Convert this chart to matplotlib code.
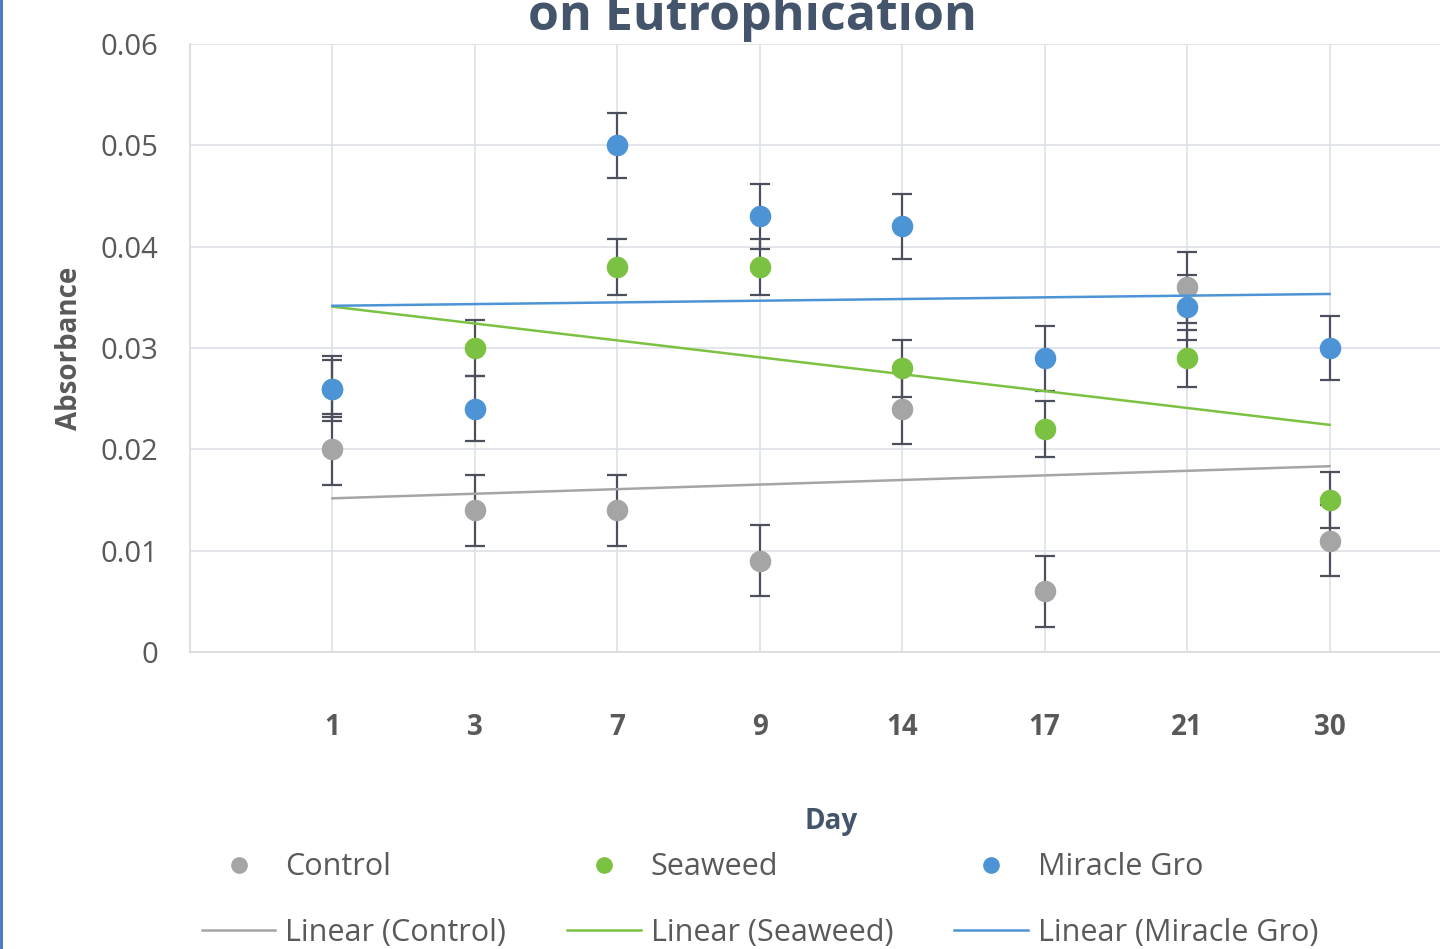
import matplotlib
matplotlib.use("Agg")
import numpy as np
import matplotlib.pyplot as plt
from matplotlib.lines import Line2D

days = ["1", "3", "7", "9", "14", "17", "21", "30"]
control = [0.020, 0.014, 0.014, 0.009, 0.024, 0.006, 0.036, 0.011]
seaweed = [0.026, 0.030, 0.038, 0.038, 0.028, 0.022, 0.029, 0.015]
miracle = [0.026, 0.024, 0.050, 0.043, 0.042, 0.029, 0.034, 0.030]
err_control = 0.0035
err_seaweed = 0.0028
err_miracle = 0.0032

names = ["Control", "Seaweed", "Miracle Gro"]
colors = ["#a5a5a5", "#7cc242", "#4d94d6"]
series = [control, seaweed, miracle]
errs = [err_control, err_seaweed, err_miracle]

plt.rcParams["font.family"] = ["Open Sans", "DejaVu Sans"]
txt = "#595959"

fig = plt.figure(figsize=(14.4, 9.49), dpi=100)
# axes runs past the right edge of the picture (the source was cropped)
ax = fig.add_axes([190 / 1440, 1 - 652 / 949, 1282 / 1440, 608 / 949])

x = np.arange(1, len(days) + 1)
for vals, err, c in zip(series, errs, colors):
    ax.errorbar(x, vals, yerr=err, fmt="none", ecolor="#4b505c",
                elinewidth=1.6, capsize=7.2, capthick=1.6, zorder=3)
    ax.plot(x, vals, "o", color=c, markersize=14.5, zorder=4)

# linear trendlines (least squares on category index)
for vals, c in zip(series, colors):
    k, b = np.polyfit(x, vals, 1)
    ax.plot([x[0], x[-1]], [k * x[0] + b, k * x[-1] + b], color=c,
            linewidth=1.8, zorder=5)

ax.set_xlim(0, 9)
ax.set_ylim(0, 0.06)
ax.set_xticks(x)
ax.set_xticklabels(days, fontsize=20, fontweight="bold", color=txt)
ax.set_yticks([0, 0.01, 0.02, 0.03, 0.04, 0.05, 0.06])
ax.set_yticklabels(["0", "0.01", "0.02", "0.03", "0.04", "0.05", "0.06"],
                   fontsize=21, color=txt)
ax.tick_params(axis="x", length=0, pad=44)
ax.tick_params(axis="y", length=0, pad=23)
ax.grid(True, color="#dde1e8", linewidth=1.2)
ax.set_axisbelow(True)
for s in ["top", "right"]:
    ax.spines[s].set_visible(False)
for s in ["left", "bottom"]:
    ax.spines[s].set_color("#d9d9d9")
    ax.spines[s].set_linewidth(1.2)

ax.set_xlabel("Day", fontsize=20, fontweight="bold", color="#44546a", labelpad=47)
ax.set_ylabel("Absorbance", fontsize=20, fontweight="bold", color=txt, labelpad=12)

fig.text(752 / 1440, 1 - 30 / 949, "on Eutrophication", ha="center", va="baseline",
         fontsize=36, fontweight="bold", color="#44546a")

handles = []
labels = []
for n, c in zip(names, colors):
    handles.append(Line2D([], [], marker="o", linestyle="none", color=c, markersize=11))
    labels.append(n)
    handles.append(Line2D([], [], color=c, linewidth=1.8))
    labels.append("Linear (" + n + ")")
fig.legend(handles, labels, ncol=3, loc="center", bbox_to_anchor=(760 / 1440, 1 - 900 / 949),
           frameon=False, fontsize=22, labelcolor=txt, handlelength=2.4,
           handletextpad=0.33, columnspacing=2.0, labelspacing=1.15)

fig.add_artist(Line2D([0.001, 0.001], [0, 1], color="#4472c4", linewidth=2,
                      transform=fig.transFigure))

fig.savefig("out.png", dpi=100)
